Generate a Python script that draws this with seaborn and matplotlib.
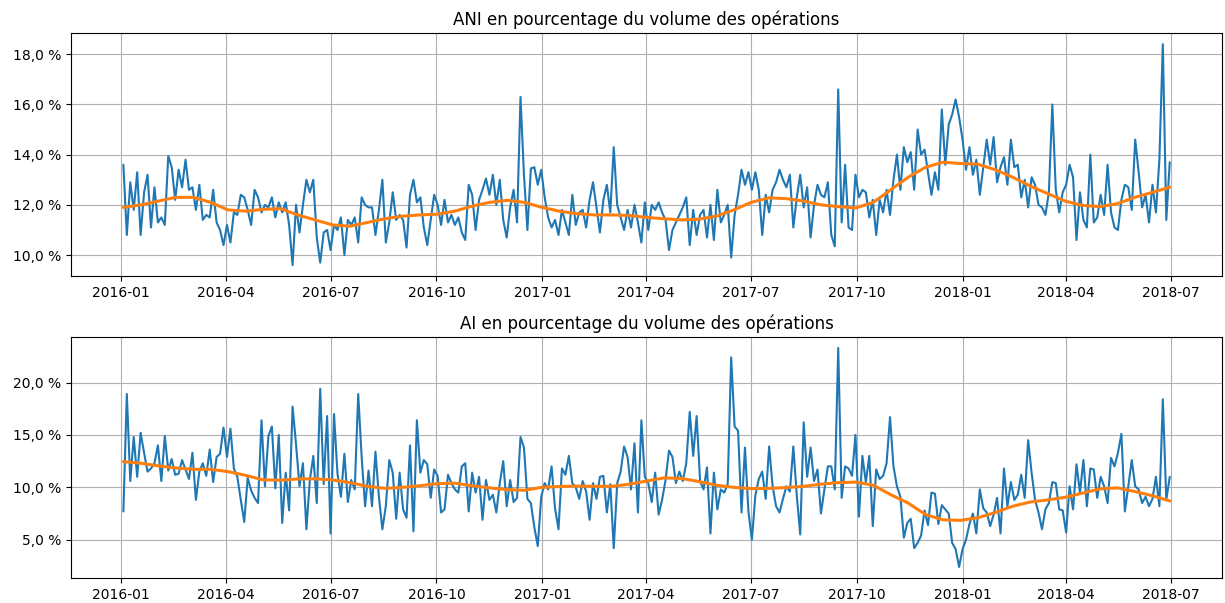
import numpy as np
import pandas as pd
import seaborn as sns
import matplotlib.pyplot as plt
import matplotlib.dates as mdates
from matplotlib.ticker import FuncFormatter, MultipleLocator

# daily-ish readings (every 3 days), in percent of the volume
ani = [13.6, 10.8, 12.9, 11.8, 13.3, 10.8, 12.5, 13.2, 11.1, 12.7,
       11.3, 11.5, 11.2, 13.95, 13.5, 12.2, 13.4, 12.7, 13.8, 12.6,
       12.7, 11.8, 12.8, 11.4, 11.6, 11.5, 12.6, 11.3, 11.0, 10.4,
       11.2, 10.5, 11.7, 11.6, 12.4, 12.3, 11.8, 11.2, 12.6, 12.3,
       11.7, 12.0, 11.9, 12.3, 11.5, 12.1, 11.7, 12.1, 11.2, 9.6,
       12.0, 10.9, 12.0, 13.0, 12.5, 13.0, 10.7, 9.7, 10.9, 11.0,
       10.2, 11.2, 11.0, 11.5, 10.0, 11.4, 11.2, 11.5, 10.5, 12.3,
       12.0, 11.9,
       11.9, 10.8, 11.8, 13.0, 10.5, 11.3, 12.5, 11.4, 11.6, 11.4,
       10.3, 12.4, 13.0, 12.1, 12.3, 11.1, 10.4, 11.4, 12.4, 12.0,
       11.2, 12.2, 11.3, 11.6, 11.2, 11.5, 10.9, 10.6, 12.8, 12.4,
       11.0, 12.2, 12.6, 13.05, 12.4, 13.2, 12.0, 13.0, 11.4, 10.7,
       11.9, 12.6, 11.3, 16.3, 13.2, 11.0, 13.45, 13.5, 12.8, 13.4,
       12.3, 11.5, 11.1, 11.4, 10.8, 11.8, 11.3, 10.8, 12.4, 11.2,
       11.7, 11.8, 11.1, 12.2, 12.9, 11.9, 10.9, 12.2, 12.8, 11.7,
       14.3, 12.0, 11.5, 11.0, 11.8, 11.1, 12.0, 11.3, 10.5, 12.1,
       11.0, 12.0, 11.8,
       12.1, 11.7, 11.4, 10.2, 11.0, 11.3, 11.6, 11.9, 12.3, 10.4,
       11.8, 10.8, 11.6, 11.8, 10.7, 12.0, 10.6, 12.6, 11.3, 11.6,
       12.0, 9.9, 11.6, 12.4, 13.4, 12.8, 13.3, 12.6, 13.3, 12.6,
       10.8, 12.4, 11.7, 12.6, 12.9, 13.4, 13.0, 12.7, 13.2, 11.1,
       12.3, 13.2, 11.9, 12.7, 10.7, 12.0, 12.8, 12.4, 12.3, 12.9,
       10.8, 10.35, 16.6, 11.3, 13.6, 11.1, 11.0, 13.2, 12.3, 12.6,
       12.5, 11.5, 12.2, 10.8, 12.2, 11.7, 12.6, 11.6, 13.0, 14.0,
       12.6, 14.3, 13.7, 14.1, 12.6, 15.0, 14.0, 14.2, 13.3, 12.4,
       13.3, 12.6, 15.8, 13.6,
       15.2, 15.6, 16.2, 15.5, 14.6, 13.4, 14.3, 13.2, 13.8, 12.4,
       13.5, 14.6, 13.6, 14.7, 12.9, 13.5, 13.9, 12.8, 14.6, 13.5,
       13.6, 12.3, 13.0, 11.9, 13.1, 12.8, 12.0, 11.9, 11.6, 12.5,
       16.0, 12.6, 11.7, 12.5, 12.8, 13.6, 13.1, 10.6, 12.5, 11.4,
       11.1, 14.0, 11.3, 11.5, 12.4, 11.6, 13.6, 11.7, 11.1, 11.0,
       12.2, 12.8, 12.7, 11.8, 14.6, 13.3, 11.9, 12.4, 11.3, 12.8,
       11.7, 13.8, 18.4, 11.4, 13.7]

ai = [7.7, 18.9, 10.6, 14.8, 11.0, 15.2, 13.3, 11.5, 11.8, 12.3,
      14.0, 10.6, 14.9, 11.6, 12.7, 11.2, 11.3, 12.6, 11.7, 10.8,
      13.3, 8.8, 11.5, 12.3, 11.1, 13.6, 10.5, 12.9, 13.2, 15.7,
      12.9, 15.6, 11.8, 11.0, 8.8, 6.7, 10.9, 9.7, 9.0, 8.5,
      16.4, 10.1, 14.9, 15.8, 9.9, 15.0, 6.6, 11.4, 7.8, 17.7,
      14.1, 10.1, 12.3, 6.0, 10.7, 13.0, 8.5, 19.4, 10.3, 16.8,
      5.6, 17.0, 11.3, 9.1, 13.2, 8.6, 10.7, 9.8, 18.9, 12.9,
      8.2, 11.6,
      8.2, 13.4, 9.1, 6.0, 8.2, 12.6, 11.4, 7.0, 11.4, 7.9,
      7.1, 14.0, 5.8, 16.4, 11.4, 12.6, 12.2, 9.0, 11.7, 11.1,
      7.6, 7.9, 11.2, 10.4, 9.8, 9.5, 12.0, 12.3, 7.7, 11.4,
      9.5, 11.0, 6.9, 10.7, 8.8, 9.3, 7.6, 10.4, 12.5, 8.2,
      10.7, 8.6, 9.0, 14.8, 13.8, 8.9, 8.5, 6.2, 4.4, 9.1,
      10.4, 9.8, 12.0, 8.0, 6.0, 11.8, 11.2, 13.0, 10.4, 10.0,
      8.9, 10.6, 9.6, 6.9, 10.4, 8.9, 11.0, 11.1, 7.6, 10.3,
      4.2, 10.4, 11.5, 13.9, 12.9, 9.8, 14.2, 7.6, 16.4, 11.0,
      10.4, 8.6, 11.4,
      7.4, 8.8, 10.7, 13.5, 12.9, 10.4, 11.5, 10.6, 12.3, 17.2,
      13.0, 16.8, 10.6, 9.8, 11.9, 5.6, 11.4, 7.9, 9.8, 9.5,
      10.3, 22.4, 15.8, 15.4, 7.6, 13.8, 7.7, 5.0, 9.2, 10.8,
      11.5, 8.9, 13.9, 10.1, 8.2, 7.6, 8.9, 10.1, 9.6, 13.9,
      9.2, 5.5, 16.2, 11.0, 13.8, 10.6, 11.7, 7.5, 9.8, 12.0,
      12.0, 9.8, 23.3, 9.0, 12.0, 11.8, 11.1, 15.0, 7.2, 13.0,
      10.5, 13.0, 6.3, 11.7, 10.8, 11.1, 12.3, 16.7, 12.0, 10.1,
      9.1, 5.2, 6.6, 7.0, 4.2, 4.7, 5.4, 7.8, 6.4, 9.5,
      9.4, 6.5, 8.3, 7.9,
      7.5, 4.7, 4.1, 2.4, 4.1, 5.0, 6.5, 7.5, 5.6, 9.8,
      8.0, 7.6, 6.3, 7.4, 9.0, 5.6, 11.8, 8.2, 10.5, 8.8,
      9.3, 11.2, 9.0, 14.5, 11.4, 8.8, 7.6, 6.0, 7.9, 8.5,
      10.5, 10.4, 7.9, 7.8, 5.7, 10.1, 7.9, 12.2, 9.5, 12.6,
      8.2, 11.8, 11.7, 9.0, 11.0, 10.1, 8.5, 12.8, 12.0, 13.3,
      15.1, 7.7, 10.1, 12.6, 10.1, 9.8, 8.5, 9.1, 8.2, 8.9,
      11.0, 8.2, 18.4, 8.8, 11.0]

# smoothed trend, read twice a month
ani_trend = [11.9, 12.0, 12.15, 12.3, 12.3, 12.1, 11.8, 11.75, 11.82, 11.85,
             11.6, 11.4, 11.2, 11.15, 11.3, 11.45, 11.55, 11.6, 11.63, 11.75,
             11.95, 12.1, 12.18, 12.1, 11.9, 11.75, 11.65, 11.6, 11.6, 11.58,
             11.5, 11.45, 11.4, 11.43, 11.55, 11.8, 12.1, 12.28, 12.25, 12.15,
             12.0, 11.93, 11.88, 12.1, 12.6, 13.1, 13.5, 13.7, 13.65, 13.62,
             13.4, 13.1, 12.75, 12.45, 12.15, 11.98, 11.93, 12.05, 12.3, 12.5,
             12.7]
ai_trend = [12.45, 12.3, 12.05, 11.85, 11.72, 11.72, 11.5, 11.15, 10.72, 10.68,
            10.8, 10.82, 10.7, 10.45, 10.1, 9.9, 10.0, 10.15, 10.35, 10.4,
            10.15, 9.95, 9.78, 9.72, 10.0, 10.08, 10.12, 10.1, 10.1, 10.3,
            10.6, 10.9, 10.85, 10.55, 10.2, 10.0, 9.88, 9.9, 9.98, 10.1,
            10.3, 10.45, 10.5, 10.2, 9.3, 8.5, 7.4, 6.9, 6.85, 7.1,
            7.6, 8.2, 8.6, 8.8, 9.05, 9.45, 9.85, 9.95, 9.6, 9.2,
            8.7]

dates = pd.date_range('2016-01-03', periods=len(ani), freq='3D')
trend_dates = pd.date_range('2016-01-03', dates[-1], periods=len(ani_trend))

sns.set_style('ticks', {'axes.grid': True, 'grid.color': '#b0b0b0',
                        'axes.edgecolor': 'black', 'text.color': 'black',
                        'xtick.color': 'black', 'ytick.color': 'black'})
plt.rcParams['font.family'] = ['DejaVu Sans']
plt.rcParams['axes.linewidth'] = 0.8
plt.rcParams['grid.linewidth'] = 0.8

fig = plt.figure(figsize=(12.25, 6.03), dpi=100)
ax1 = fig.add_axes([0.058, 0.542, 0.9396, 0.403])
ax2 = fig.add_axes([0.058, 0.0415, 0.9396, 0.3997])

pct = FuncFormatter(lambda v, pos: f"{v:.1f} %".replace('.', ','))

panels = [(ax1, ani, ani_trend, 'ANI en pourcentage du volume des opérations', 2),
          (ax2, ai, ai_trend, 'AI en pourcentage du volume des opérations', 5)]

for ax, vals, trend, title, step in panels:
    sns.lineplot(x=dates, y=vals, ax=ax, color='#1f77b4', linewidth=1.5)
    sns.lineplot(x=trend_dates, y=trend, ax=ax, color='#ff7f0e', linewidth=2.2)
    ax.set_title(title, fontsize=12)
    ax.set_xlabel('')
    ax.set_ylabel('')
    ax.xaxis.set_major_locator(mdates.MonthLocator(bymonth=(1, 4, 7, 10)))
    ax.xaxis.set_major_formatter(mdates.DateFormatter('%Y-%m'))
    ax.yaxis.set_major_locator(MultipleLocator(step))
    ax.yaxis.set_major_formatter(pct)
    ax.tick_params(labelsize=10)
    ax.grid(True)

plt.savefig('out.png', dpi=100)
